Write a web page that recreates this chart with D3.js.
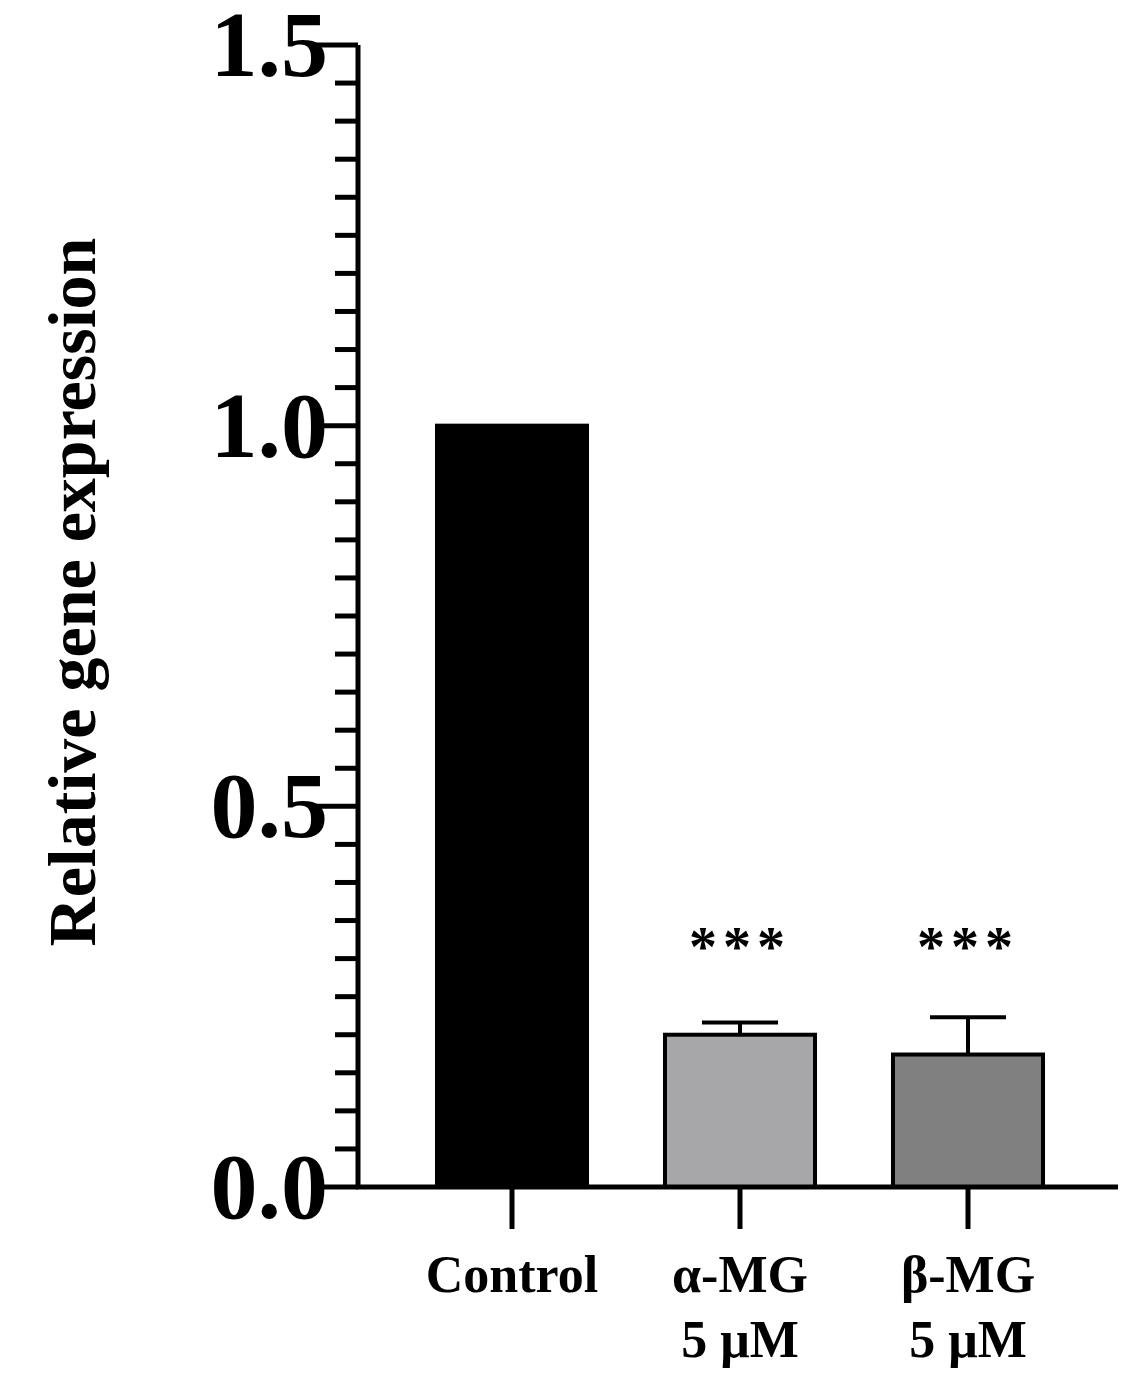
<!DOCTYPE html>
<html><head><meta charset="utf-8">
<script src="https://cdn.jsdelivr.net/npm/d3@7"></script>
<style>body{margin:0;background:#fff}</style>
</head><body>
<svg id="chart"></svg>
<script>
var groups = ["Control", "α-MG", "β-MG"];
var subLabels = ["", "5 μM", "5 μM"];
var values = [1.0, 0.2, 0.174];
var errors = [0, 0.016, 0.049];
var stars = ["", "***", "***"];
var barColors = ["#000000", "#a7a7a9", "#808080"];
var majorTicks = [0, 0.5, 1.0, 1.5];

var svgW = 1143, svgH = 1391;
var svg = d3.select("#chart").attr("width", svgW).attr("height", svgH);
var font = "'Liberation Serif', 'Times New Roman', serif";

var y = d3.scaleLinear().domain([0, 1.5]).range([1187, 45]);
var x = d3.scaleBand().domain(groups).range([398, 1082]).paddingInner(0.342).paddingOuter(0.171);

// bars
svg.selectAll("rect.bar").data(groups).enter().append("rect")
  .attr("x", function(d){ return x(d); })
  .attr("y", function(d,i){ return y(values[i]); })
  .attr("width", x.bandwidth())
  .attr("height", function(d,i){ return y(0) - y(values[i]); })
  .attr("fill", function(d,i){ return barColors[i]; })
  .attr("stroke", "#000").attr("stroke-width", 4);

// error bars (upper only) and significance stars
groups.forEach(function(d,i){
  if (!errors[i]) return;
  var cx = x(d) + x.bandwidth()/2, top = y(values[i] + errors[i]);
  svg.append("line").attr("x1", cx).attr("x2", cx).attr("y1", y(values[i])).attr("y2", top)
    .attr("stroke", "#000").attr("stroke-width", 4);
  svg.append("line").attr("x1", cx - 38).attr("x2", cx + 38).attr("y1", top).attr("y2", top)
    .attr("stroke", "#000").attr("stroke-width", 4);
  svg.append("text").attr("x", cx).attr("y", y(0.29))
    .attr("text-anchor", "middle").attr("font-family", font).attr("font-size", 56)
    .attr("font-weight", "bold").attr("letter-spacing", 6).text(stars[i]);
});

// y axis
var yAxis = svg.append("g").attr("transform", "translate(358,0)");
yAxis.append("line").attr("x1", 0).attr("x2", 0).attr("y1", y(1.5)).attr("y2", y(0))
  .attr("stroke", "#000").attr("stroke-width", 5);
d3.range(0, 31).forEach(function(k){
  var v = k * 0.05, major = k % 10 === 0;
  yAxis.append("line").attr("x1", major ? -43 : -23).attr("x2", 0)
    .attr("y1", y(v)).attr("y2", y(v)).attr("stroke", "#000").attr("stroke-width", 5);
});
yAxis.selectAll("text.tick").data(majorTicks).enter().append("text")
  .attr("x", -30).attr("y", function(d){ return y(d); }).attr("dy", "0.33em")
  .attr("text-anchor", "end").attr("font-family", font).attr("font-size", 94)
  .attr("font-weight", "bold").text(function(d){ return d.toFixed(1); });

// x axis
svg.append("line").attr("x1", 356).attr("x2", 1118).attr("y1", y(0)).attr("y2", y(0))
  .attr("stroke", "#000").attr("stroke-width", 5);
groups.forEach(function(d,i){
  var cx = x(d) + x.bandwidth()/2;
  svg.append("line").attr("x1", cx).attr("x2", cx).attr("y1", y(0)).attr("y2", y(0) + 42)
    .attr("stroke", "#000").attr("stroke-width", 5);
  svg.append("text").attr("x", cx).attr("y", 1292).attr("text-anchor", "middle")
    .attr("font-family", font).attr("font-size", 52).attr("font-weight", "bold").text(d);
  if (subLabels[i]) svg.append("text").attr("x", cx).attr("y", 1357).attr("text-anchor", "middle")
    .attr("font-family", font).attr("font-size", 52).attr("font-weight", "bold").text(subLabels[i]);
});

// y label
svg.append("text").attr("transform", "translate(95,592) rotate(-90)")
  .attr("text-anchor", "middle").attr("font-family", font).attr("font-size", 68)
  .attr("font-weight", "bold").text("Relative gene expression");
</script>
</body></html>
